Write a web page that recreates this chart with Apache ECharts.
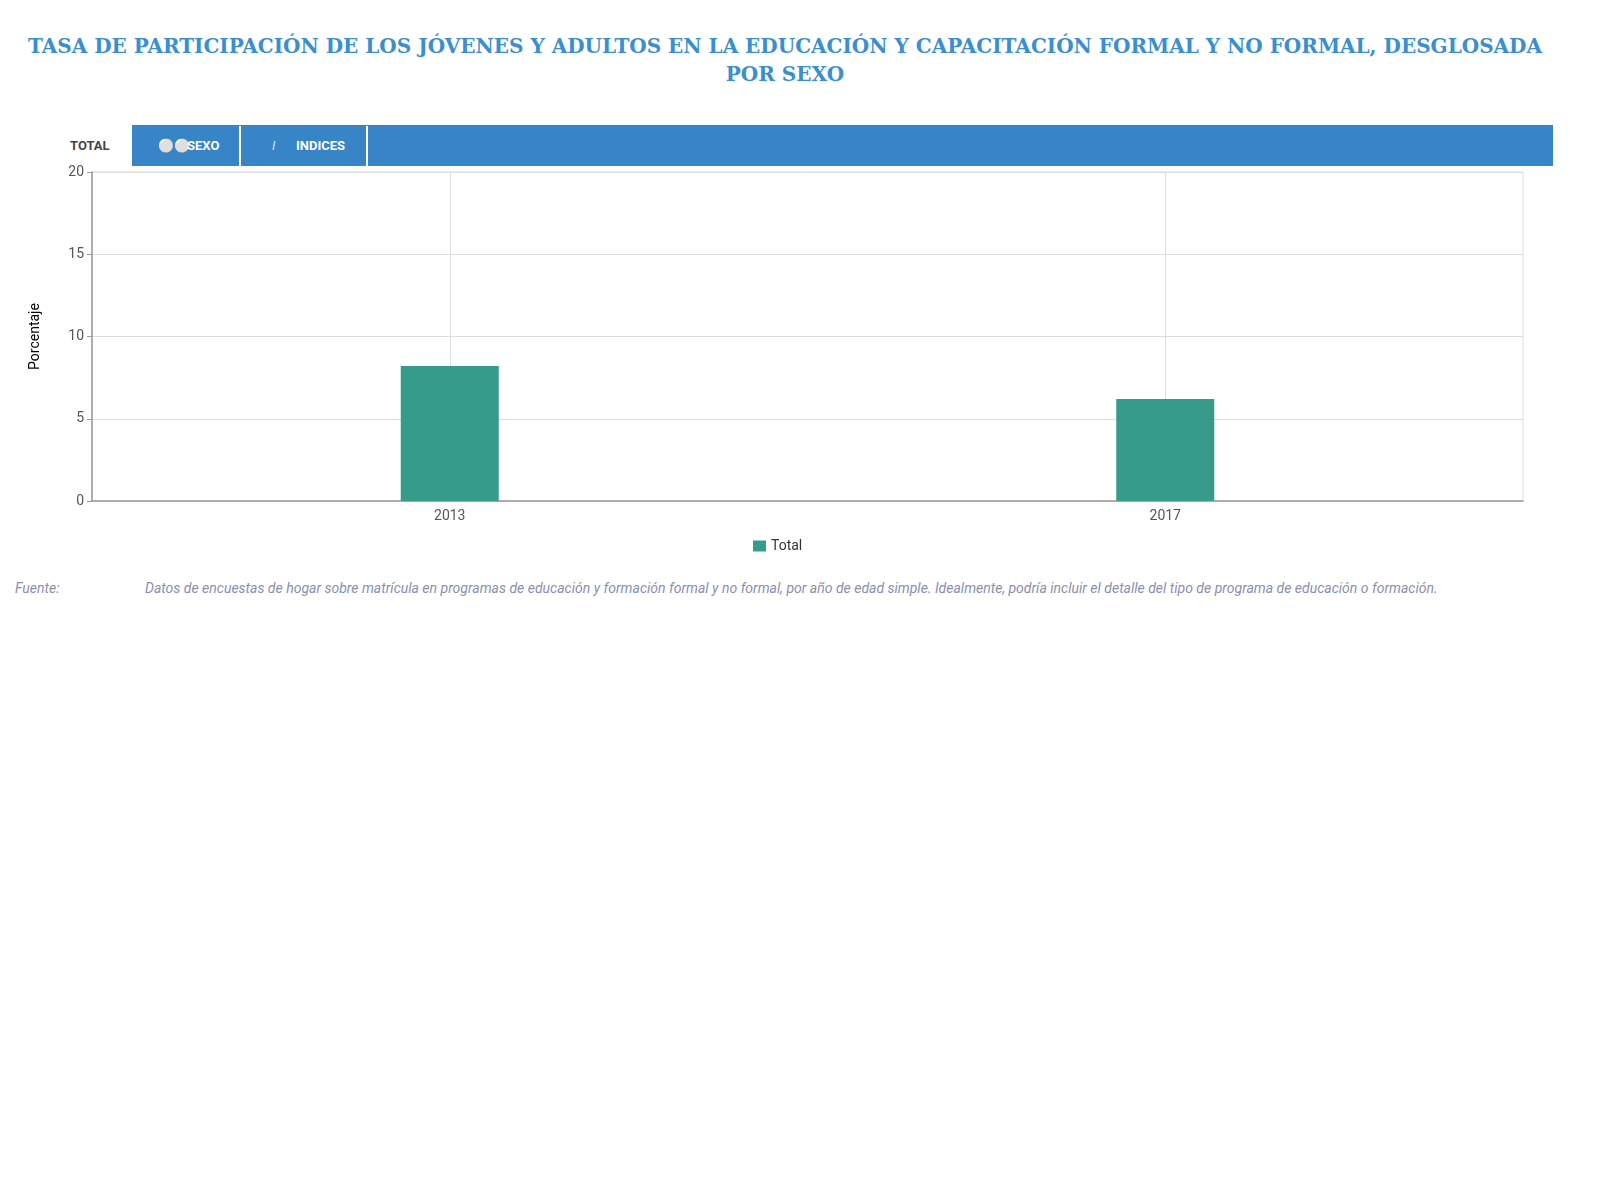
<!DOCTYPE html>
<html>
<head>
<meta charset="utf-8">
<script src="https://cdn.jsdelivr.net/npm/echarts@6/dist/echarts.min.js"></script>
<style>
  body { margin: 0; background: #fff; font-family: Roboto, sans-serif; }
  #title { position: absolute; left: 15px; width: 1540px; top: 32px; text-align: center;
    font-family: "DejaVu Serif", serif; font-weight: bold; font-size: 20px; line-height: 28px; color: #3a8fd0; }
  #tabs { position: absolute; left: 52px; top: 125px; width: 1501px; height: 41px; }
  #tabs .bar { position: absolute; left: 80px; right: 0; top: 0; bottom: 0; background: #3785c6; }
  .tab { position: absolute; top: 1px; height: 40px; line-height: 40px; font-size: 13px; font-weight: bold; color: #fff; }
  .sep { position: absolute; top: 1px; width: 2px; height: 40px; background: #fff; }
  #fuente { position: absolute; top: 576px; left: 15px; font-size: 14px; font-style: italic; color: #8a8fae; line-height: 24px; }
  #fuente .l { position: absolute; left: 0; }
  #fuente .t { position: absolute; left: 130px; width: 1395px; }
  #demo { position: absolute; left: 0; top: 160px; width: 1600px; height: 400px; }
</style>
</head>
<body>
<div id="title">TASA DE PARTICIPACIÓN DE LOS JÓVENES Y ADULTOS EN LA EDUCACIÓN Y CAPACITACIÓN FORMAL Y NO FORMAL, DESGLOSADA POR SEXO</div>
<div id="tabs">
  <div class="bar"></div>
  <div class="tab" style="left:18px;color:#444">TOTAL</div>
  <div class="tab" style="left:106px;color:#cfe0f2;font-weight:normal">&#9898;&#9898;</div>
  <div class="tab" style="left:135px">SEXO</div>
  <div class="sep" style="left:187px"></div>
  <div class="tab" style="left:220px;color:#cfe0f2;font-weight:normal;font-style:italic">I</div>
  <div class="tab" style="left:244px">INDICES</div>
  <div class="sep" style="left:314px"></div>
</div>
<div id="demo"></div>
<div id="fuente">
  <span class="l">Fuente:</span>
  <span class="t">Datos de encuestas de hogar sobre matrícula en programas de educación y formación formal y no formal, por año de edad simple. Idealmente, podría incluir el detalle del tipo de programa de educación o formación.</span>
</div>
<script>
var years = ['2013', '2017'];
var totalValues = [8.2, 6.2];
var yTicks = { min: 0, max: 20, interval: 5 };

var myChart = echarts.init(document.getElementById('demo'));
var option = {
    textStyle: { fontFamily: 'Roboto' },
    grid: { left: 92, top: 12, width: 1431, height: 329, show: true, borderColor: '#ddd', borderWidth: 1 },
    legend: { data: ['Total'], top: 374, left: 748, icon: 'rect', itemWidth: 13, itemHeight: 11, itemGap: 5,
        textStyle: { color: '#333', fontSize: 14 } },
    xAxis: {
        type: 'category', data: years,
        axisLine: { lineStyle: { color: '#999', width: 1.5 } },
        axisTick: { alignWithLabel: true, lineStyle: { color: '#999' } },
        axisLabel: { color: '#555', fontSize: 14 },
        splitLine: { show: false }
    },
    yAxis: {
        type: 'value', min: yTicks.min, max: yTicks.max, interval: yTicks.interval,
        name: 'Porcentaje', nameLocation: 'middle', nameGap: 50, nameRotate: 90,
        nameTextStyle: { color: '#000', fontSize: 14 },
        axisLine: { show: true, lineStyle: { color: '#999', width: 1.5 } },
        axisTick: { show: true, length: 5, lineStyle: { color: '#999' } },
        axisLabel: { color: '#555', fontSize: 14, margin: 8 },
        splitLine: { lineStyle: { color: '#ddd' } }
    },
    series: [{
        name: 'Total', type: 'bar', data: totalValues, barWidth: 98,
        itemStyle: { color: '#369b8a' }, z: 3,
        markLine: {
            silent: true, symbol: 'none', label: { show: false }, z: 1,
            lineStyle: { color: '#ddd', type: 'solid', width: 1 },
            data: years.map(function (y) { return { xAxis: y }; })
        }
    }]
};
myChart.setOption(option);
</script>
</body>
</html>
